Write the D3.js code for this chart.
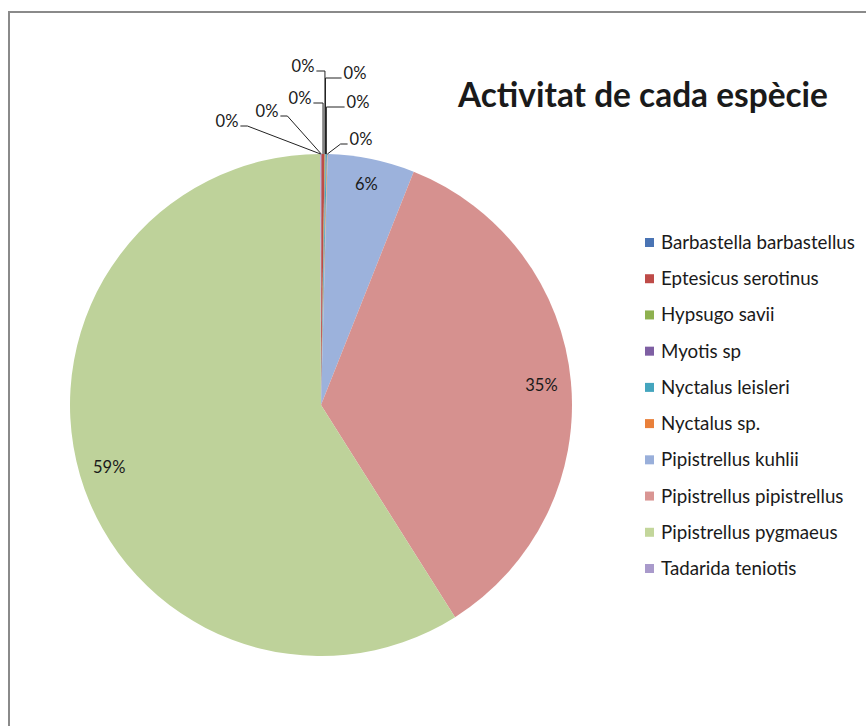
<!DOCTYPE html>
<html>
<head>
<meta charset="utf-8">
<script src="https://cdn.jsdelivr.net/npm/d3@7/dist/d3.min.js"></script>
<style>
  html, body { margin: 0; padding: 0; background: #fff; }
  svg { display: block; }
  text { font-family: Lato, "Open Sans", sans-serif; fill: #1a1a1a; }
</style>
</head>
<body>
<svg id="chart" width="866" height="726"></svg>
<script>
// Bat activity per species (share of recorded passes, %)
const species = [
  "Barbastella barbastellus",
  "Eptesicus serotinus",
  "Hypsugo savii",
  "Myotis sp",
  "Nyctalus leisleri",
  "Nyctalus sp.",
  "Pipistrellus kuhlii",
  "Pipistrellus pipistrellus",
  "Pipistrellus pygmaeus",
  "Tadarida teniotis"
];
const activity = [0.03, 0.20, 0.04, 0.03, 0.08, 0.04, 5.6, 35.0, 58.9, 0.05];
const sliceColors = ["#4a76b5", "#be4b48", "#8fb251", "#7d5fa1", "#45a6c0", "#ee8a3f",
                     "#9cb2dc", "#d6918f", "#bed29a", "#ad9fcb"];
const legendColors = ["#4a74b4", "#be4b48", "#8eb14f", "#7e5fa3", "#44a5be", "#e9803a",
                      "#99afda", "#d99593", "#c3d69b", "#a99acb"];
const chartTitle = "Activitat de cada espècie";

const svg = d3.select("#chart");

// chart frame (only the top and left edges fall inside the view)
svg.append("rect")
  .attr("x", 9).attr("y", 12).attr("width", 900).attr("height", 760)
  .attr("fill", "none").attr("stroke", "#8a8a8a").attr("stroke-width", 2);

const cx = 321, cy = 405, r = 251;
const total = d3.sum(activity);
const pct = v => Math.round(v / total * 100) + "%";
const labelSize = 16.5;

const pie = d3.pie().sort(null).value(d => d)(activity);
const arc = d3.arc().innerRadius(0).outerRadius(r);

const g = svg.append("g").attr("transform", `translate(${cx},${cy})`);
g.selectAll("path.slice").data(pie).join("path")
  .attr("class", "slice")
  .attr("d", arc)
  .attr("fill", (d, i) => sliceColors[i]);

// labels inside the larger slices
const big = pie.filter(d => d.value / total >= 0.01);
big.forEach(d => {
  const a = (d.startAngle + d.endAngle) / 2;
  const hw = 13, hh = 7;
  const ext = hh * Math.abs(Math.cos(a)) + hw * Math.abs(Math.sin(a));
  const rr = r - 16 - ext;
  g.append("text")
    .attr("x", rr * Math.sin(a))
    .attr("y", -rr * Math.cos(a))
    .attr("text-anchor", "middle")
    .attr("dominant-baseline", "central")
    .attr("font-size", labelSize)
    .text(pct(d.value));
});

// callouts for the tiny slices, fanned out above the top of the pie
// offsets are relative to the top point of the pie
const calloutSlots = {
  9: [-94, -33], 0: [-54, -43], 1: [-21, -56], 2: [-18, -88],
  3: [34, -81], 4: [37, -52], 5: [40, -15]
};
const small = pie.filter(d => d.value / total < 0.01);
small.forEach(d => {
  const slot = calloutSlots[d.index];
  const a = (d.startAngle + d.endAngle) / 2;
  const px = r * Math.sin(a), py = -r * Math.cos(a);
  const lx = slot[0], ly = -r + slot[1];
  const t = g.append("text")
    .attr("x", lx).attr("y", ly)
    .attr("text-anchor", "middle")
    .attr("dominant-baseline", "central")
    .attr("font-size", labelSize)
    .text(pct(d.value));
  const w = t.node().getComputedTextLength();
  const left = lx < px;
  const ex = left ? lx + w / 2 + 2 : lx - w / 2 - 2;
  const ey = ly + 5;
  let kx = left ? ex + 7 : ex - 7;
  if (Math.abs(px - ex) < 20) kx = px;
  g.append("path")
    .attr("d", `M${ex},${ey}L${kx},${ey}L${px},${py}`)
    .attr("fill", "none")
    .attr("stroke", "#222")
    .attr("stroke-width", 1);
});

// title, sized to span its box
const title = svg.append("text")
  .attr("x", 458).attr("y", 107)
  .attr("font-weight", "bold")
  .attr("font-size", 29)
  .text(chartTitle);
const tw = title.node().getComputedTextLength();
title.attr("font-size", 29 * 370 / tw);

// legend
const legend = svg.append("g");
const rowY = d3.scaleLinear().domain([0, species.length - 1]).range([242, 568]);
const items = legend.selectAll("g").data(species).join("g")
  .attr("transform", (d, i) => `translate(645,${rowY(i)})`);
items.append("rect")
  .attr("x", 0).attr("y", -4).attr("width", 9).attr("height", 9)
  .attr("fill", (d, i) => legendColors[i]);
const ltext = items.append("text")
  .attr("x", 16).attr("y", 0)
  .attr("dominant-baseline", "central")
  .attr("font-size", 15)
  .text(d => d);
const maxW = d3.max(ltext.nodes(), n => n.getComputedTextLength());
ltext.attr("font-size", 15 * 194 / maxW);
</script>
</body>
</html>
